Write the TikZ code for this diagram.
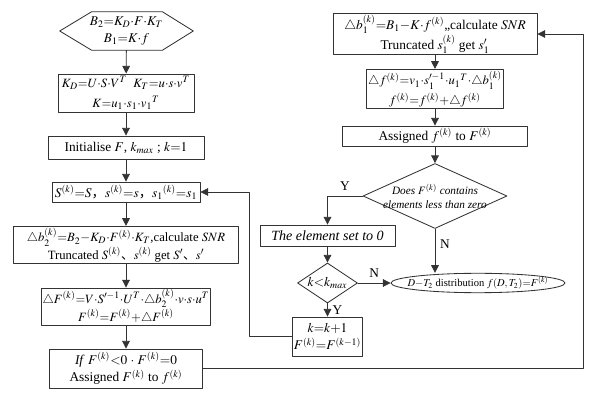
\documentclass[tikz,border=0pt]{standalone}
\usepackage{mathptmx}
\usepackage{fontspec}
\setmainfont{Liberation Serif}
\newfontfamily\cjk{Noto Sans CJK SC}
\usetikzlibrary{arrows.meta,shapes.geometric,calc}
\newcommand{\pdot}{{\cdot}}

\begin{document}
\begin{tikzpicture}[x=0.025cm, y=-0.025cm, line cap=round, line join=round,
  every node/.style={font=\fontsize{9.5}{12.5}\selectfont},
  line/.style={draw=black!80, line width=0.6pt},
  box/.style={line, align=center, inner sep=1pt},
  dense/.style={font=\fontsize{9}{12.5}\selectfont},
  hexbox/.style={align=center, inner sep=1pt, minimum width=3.325cm, minimum height=0.95cm},
  test/.style={line, diamond, align=center, inner sep=-3pt},
  stopbox/.style={line, ellipse, inner xsep=-7pt, inner ysep=0.5pt, minimum width=4.35cm, minimum height=0.45cm, font=\fontsize{7.5}{9}\selectfont},
  flow/.style={line, -{Triangle[length=5.5pt,width=5.5pt]}}]

\useasboundingbox (0,0) rectangle (600,400);

% Left column
\node[hexbox] (start) at (126.5,31) {$B_2{=}K_D\pdot F\pdot K_T$\\$B_1{=}K\pdot f$};
\draw[line] (start.west) -- ($(start.north west)+(32,0)$) -- ($(start.north east)+(-31,0)$)
  -- (start.east) -- ($(start.south east)+(-31,0)$) -- ($(start.south west)+(32,0)$) -- cycle;

\node[box, dense, minimum width=3.4cm, minimum height=0.95cm] (svd) at (126,93)
  {$K_D{=}U\pdot S\pdot V^T$\enspace$K_T{=}u\pdot s\pdot v^T$\\[1.5pt]$K{=}u_1\pdot s_1\pdot v_1{}^T$};
\node[box, minimum width=3.9cm, minimum height=0.575cm] (init) at (126,147.5)
  {Initialise $F$, $k_{max}$ ; $k{=}1$};
\node[box, minimum width=3.7cm, minimum height=0.5cm] (reset) at (126,192)
  {$S^{(k)}{=}S${\cjk ，}$s^{(k)}{=}s${\cjk ，}$s_1{}^{(k)}{=}s_1$};
\node[box, dense, minimum width=5.625cm, minimum height=0.9cm] (resid) at (126,245)
  {$\triangle b_2^{(k)}{=}B_2{-}K_D\pdot F^{(k)}\pdot K_T$,calculate $SNR$\\Truncated $S^{(k)}${\cjk 、}$s^{(k)}$ get $S'${\cjk 、}$s'$};
\node[box, dense, minimum width=3.925cm, minimum height=0.925cm] (corr) at (126,306.5)
  {$\triangle F^{(k)}{=}V\pdot S'^{-1}\pdot U^T\pdot\triangle b_2^{(k)}\pdot v\pdot s\pdot u^T$\\$F^{(k)}{=}F^{(k)}{+}\triangle F^{(k)}$};
\node[box, minimum width=3.825cm, minimum height=0.975cm] (clip) at (126,368.5)
  {\textit{If} $F^{(k)}{<}0$ $\cdot$ $F^{(k)}{=}0$\\Assigned $F^{(k)}$ to $f^{(k)}$};

% Right column
\node[box, minimum width=5.1cm, minimum height=0.95cm] (resid1) at (435,34)
  {$\triangle b_1^{(k)}{=}B_1{-}K\pdot f^{(k)}$,,calculate $SNR$\\Truncated $s_1^{(k)}$ get $s'_1$};
\node[box, dense, minimum width=3.1cm, minimum height=0.95cm] (corr1) at (435,89)
  {$\triangle f^{(k)}{=}v_1\pdot s_1^{\prime-1}\pdot u_1{}^T\pdot\triangle b_1^{(k)}$\\[1.5pt]$f^{(k)}{=}f^{(k)}{+}\triangle f^{(k)}$};
\node[box, minimum width=4.625cm, minimum height=0.5cm] (assign) at (435,136)
  {Assigned $f^{(k)}$ to $F^{(k)}$};
\node[test, aspect=2.2, minimum width=3.6cm, minimum height=1.625cm, font=\itshape\fontsize{8}{10}\selectfont] (neg) at (435,196)
  {Does $F^{(k)}$ contains\\elements less than zero};
\node[box, minimum width=3.375cm, minimum height=0.525cm, font=\itshape\fontsize{10}{12}\selectfont] (zero) at (327.5,235.5)
  {The element set to 0};
\node[test, aspect=1.5, minimum width=1.5cm, minimum height=1cm, inner sep=0pt] (kmx) at (327.5,283)
  {$k{<}k_{max}$};
\node[box, minimum width=1.75cm, minimum height=0.975cm] (kinc) at (327.5,336.5)
  {$k{=}k{+}1$\\$F^{(k)}{=}F^{(k-1)}$};
\node[stopbox] (done) at (478,283)
  {$D{-}T_2$ distribution $f(D,T_2){=}F^{(k)}$};

% Loop corners
\coordinate (back) at (249,192);
\coordinate (up) at (583,34);

% Connectors
\draw[flow] (start) -- (svd);
\draw[flow] (svd) -- (init);
\draw[flow] (init) -- (reset);
\draw[flow] (reset) -- (resid);
\draw[flow] (resid) -- (corr);
\draw[flow] (corr) -- (clip);
\draw[flow] (clip.east) -| (up) -- (resid1.east);

\draw[flow] (resid1) -- (corr1);
\draw[flow] (corr1) -- (assign);
\draw[flow] (assign) -- (neg);
\draw[flow] (neg.west) -| (zero) node[pos=0.25, above] {Y};
\draw[flow] (neg) -- (neg |- done.north) node[pos=0.35, right] {N};
\draw[flow] (zero) -- (kmx);
\draw[flow] (kmx) -- (done) node[midway, above] {N};
\draw[flow] (kmx) -- (kinc) node[midway, right] {Y};
\draw[flow] (kinc.west) -| (back) -- (reset.east);

\end{tikzpicture}
\end{document}
